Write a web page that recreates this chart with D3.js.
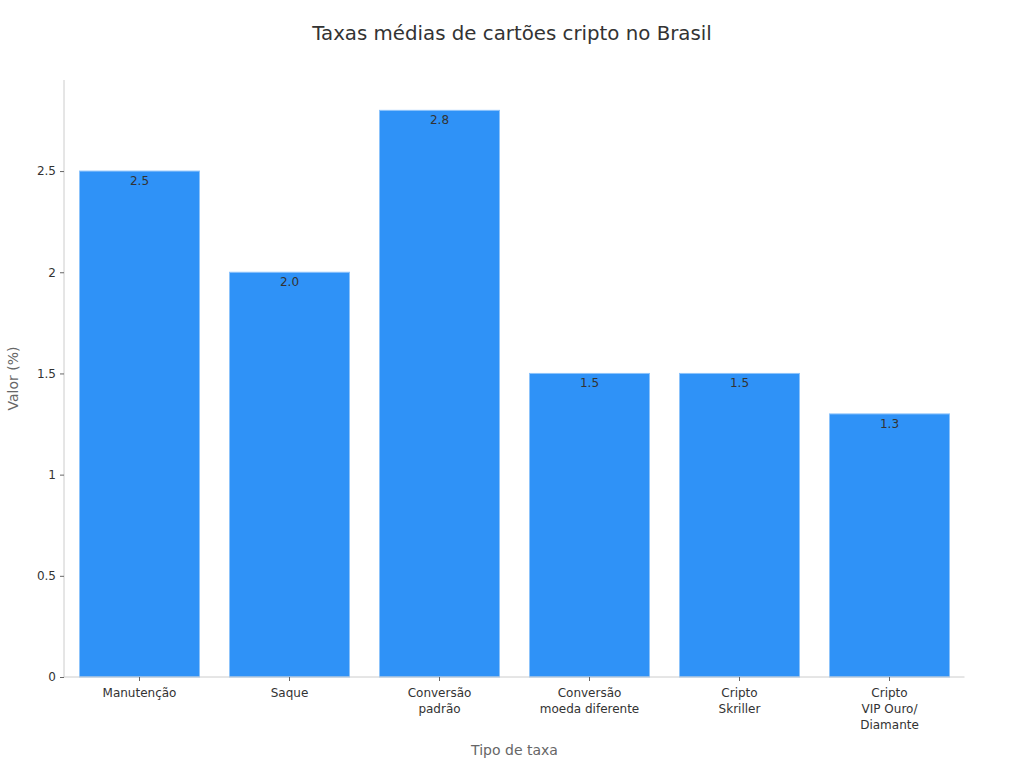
<!DOCTYPE html>
<html lang="pt">
<head>
<meta charset="UTF-8">
<title>Taxas médias de cartões cripto no Brasil</title>
<script src="https://d3js.org/d3.v7.min.js"></script>
<style>
    body { margin: 0; background: #fff; }
    svg { font-family: "DejaVu Sans", sans-serif; }
</style>
</head>
<body>
<script>
    // data
    const categories = [
        ["Manutenção"],
        ["Saque"],
        ["Conversão", "padrão"],
        ["Conversão", "moeda diferente"],
        ["Cripto", "Skriller"],
        ["Cripto", "VIP Ouro/", "Diamante"]
    ];
    const values = [2.5, 2.0, 2.8, 1.5, 1.5, 1.3];
    const yTicks = [0, 0.5, 1, 1.5, 2, 2.5];

    const w = 1024, h = 768;
    const plotLeft = 64.5, plotRight = 964.5, plotTop = 80, plotBottom = 677;

    const svg = d3.select("body").append("svg")
        .attr("width", w)
        .attr("height", h);

    svg.append("text")
        .attr("x", w / 2)
        .attr("y", 40)
        .attr("text-anchor", "middle")
        .style("font-size", "19.8px")
        .style("fill", "#333")
        .text("Taxas médias de cartões cripto no Brasil");

    const x = d3.scaleBand()
        .domain(d3.range(categories.length))
        .range([plotLeft, plotRight])
        .paddingInner(0.2)
        .paddingOuter(0.1);

    const y = d3.scaleLinear()
        .domain([0, 2.95])
        .range([plotBottom, plotTop]);

    // bars
    svg.selectAll("rect.bar")
        .data(values)
        .enter()
        .append("rect")
        .attr("class", "bar")
        .attr("x", (d, i) => x(i))
        .attr("y", d => y(d))
        .attr("width", x.bandwidth())
        .attr("height", d => plotBottom - y(d))
        .attr("fill", "#2f92f7")
        .attr("stroke", "#8cc3fb")
        .attr("stroke-width", 1);

    svg.selectAll("text.val")
        .data(values)
        .enter()
        .append("text")
        .attr("class", "val")
        .attr("x", (d, i) => x(i) + x.bandwidth() / 2)
        .attr("y", d => y(d) + 14)
        .attr("text-anchor", "middle")
        .style("font-size", "12px")
        .style("fill", "#333")
        .text(d => d.toFixed(1));

    // y axis
    const yAxis = d3.axisLeft(y)
        .tickValues(yTicks)
        .tickFormat(d => d3.format("~g")(d))
        .tickSize(4)
        .tickPadding(4);

    const gy = svg.append("g")
        .attr("transform", "translate(" + (plotLeft - 0.5) + ",0)")
        .call(yAxis);
    gy.select(".domain").attr("stroke", "#ccc").attr("d", "M0," + plotBottom + "V" + plotTop);
    gy.selectAll(".tick line").attr("stroke", "#666");
    gy.selectAll(".tick text").style("font-size", "12px").style("fill", "#333")
        .style("font-family", "DejaVu Sans, sans-serif");

    // x axis
    const xAxis = d3.axisBottom(x).tickSize(4).tickFormat("");
    const gx = svg.append("g")
        .attr("transform", "translate(0," + plotBottom + ")")
        .call(xAxis);
    gx.select(".domain").attr("stroke", "#ccc").attr("d", "M" + (plotLeft - 0.5) + ",0H" + plotRight);
    gx.selectAll(".tick line").attr("stroke", "#666");

    gx.selectAll(".tick")
        .append("text")
        .attr("fill", "#333")
        .style("font-size", "12px")
        .style("font-family", "DejaVu Sans, sans-serif")
        .attr("text-anchor", "middle")
        .selectAll("tspan")
        .data(i => categories[i])
        .enter()
        .append("tspan")
        .attr("x", 0)
        .attr("y", (d, j) => 20 + j * 16)
        .text(d => d);

    // axis titles
    svg.append("text")
        .attr("x", (plotLeft + plotRight) / 2)
        .attr("y", 755)
        .attr("text-anchor", "middle")
        .style("font-size", "14px")
        .style("fill", "#666")
        .text("Tipo de taxa");

    svg.append("text")
        .attr("transform", "translate(18," + ((plotTop + plotBottom) / 2) + ") rotate(-90)")
        .attr("text-anchor", "middle")
        .style("font-size", "14px")
        .style("fill", "#666")
        .text("Valor (%)");
</script>
</body>
</html>
